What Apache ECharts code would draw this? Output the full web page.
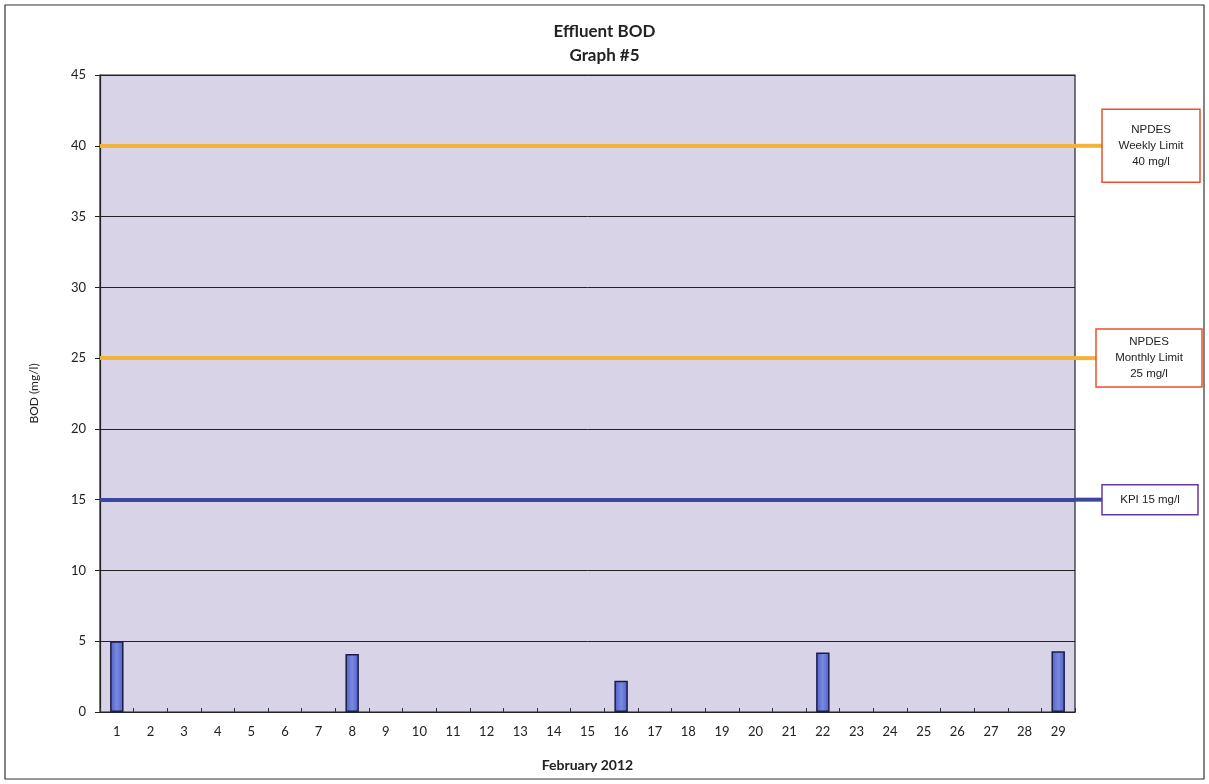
<!DOCTYPE html>
<html>
<head>
<meta charset="utf-8">
<script src="https://cdn.jsdelivr.net/npm/echarts@6/dist/echarts.min.js"></script>
<style>
  html, body { margin: 0; padding: 0; background: #fff; }
  #chart { width: 1209px; height: 784px; }
</style>
</head>
<body>
<div id="chart"></div>
<script>
// data
const days = ['1','2','3','4','5','6','7','8','9','10','11','12','13','14','15','16','17','18','19','20','21','22','23','24','25','26','27','28','29']
const bodValues = [5.0,'-','-','-','-','-','-',4.1,'-','-','-','-','-','-','-',2.2,'-','-','-','-','-',4.2,'-','-','-','-','-','-',4.3]
const yTicks = [0, 45, 5] // min, max, interval
const limits = [
  { value: 40, color: '#f3b23a', label: ['NPDES', 'Weekly Limit', '40 mg/l'], box: '#e8502a' },
  { value: 25, color: '#f3b23a', label: ['NPDES', 'Monthly Limit', '25 mg/l'], box: '#e8502a' },
  { value: 15, color: '#3c469e', label: ['KPI 15 mg/l'], box: '#6a3a9a' }
]

const chart = echarts.init(document.getElementById('chart'))
const font = 'Lato, "Open Sans", sans-serif'
const gridLeft = 100
const gridRight = 134

chart.setOption({
  animation: false,
  title: {
    text: 'Effluent BOD\nGraph #5',
    left: 'center',
    top: 15,
    textStyle: { fontFamily: font, fontSize: 17, fontWeight: 'bold', color: '#222', lineHeight: 24 }
  },
  grid: {
    left: gridLeft,
    right: gridRight,
    top: 75,
    bottom: 72,
    show: true,
    backgroundColor: '#d8d3e7',
    borderColor: '#222',
    borderWidth: 1.2
  },
  xAxis: {
    type: 'category',
    data: days,
    name: 'February 2012',
    nameLocation: 'middle',
    nameGap: 46,
    nameTextStyle: { fontFamily: font, fontSize: 14, fontWeight: 'bold', color: '#222' },
    axisLine: { lineStyle: { color: '#222', width: 1.2 } },
    axisTick: { show: true, inside: true, length: 4, lineStyle: { color: '#333' } },
    axisLabel: { fontFamily: font, fontSize: 13, color: '#222', margin: 13 }
  },
  yAxis: {
    type: 'value',
    min: yTicks[0],
    max: yTicks[1],
    interval: yTicks[2],
    name: 'BOD (mg/l)',
    nameLocation: 'middle',
    nameGap: 60,
    nameTextStyle: { fontFamily: font, fontSize: 12, color: '#222' },
    axisLine: { show: true, lineStyle: { color: '#222', width: 1.2 } },
    axisTick: { show: true, length: 5, lineStyle: { color: '#222' } },
    axisLabel: { fontFamily: font, fontSize: 13, color: '#222', margin: 14 },
    splitLine: { lineStyle: { color: '#222', width: 1 } }
  },
  series: [
    {
      type: 'bar',
      data: bodValues,
      barWidth: '40%',
      itemStyle: {
        color: new echarts.graphic.LinearGradient(0, 0, 1, 0, [
          { offset: 0, color: '#4d5fc4' },
          { offset: 0.5, color: '#7a8ae0' },
          { offset: 1, color: '#4d5fc4' }
        ]),
        borderColor: '#1c1c4c',
        borderWidth: 1.5
      },
      markLine: {
        symbol: 'none',
        silent: true,
        label: { show: false },
        data: limits.map(l => ({
          yAxis: l.value,
          lineStyle: { color: l.color, width: 4, type: 'solid' }
        }))
      }
    }
  ]
})

// extend limit lines into the right margin and draw their label boxes
const plotRight = 1209 - gridRight
const boxes = [
  { x: 1102, w: 98, h: 73 },
  { x: 1096, w: 106, h: 58 },
  { x: 1102, w: 96, h: 30 }
]
const graphics = [
  {
    type: 'rect',
    shape: { x: 5, y: 5, width: 1199, height: 774 },
    style: { fill: 'none', stroke: '#333', lineWidth: 1.2 },
    silent: true
  }
]
limits.forEach((l, i) => {
  const y = chart.convertToPixel({ yAxisIndex: 0 }, l.value)
  const b = boxes[i]
  graphics.push({
    type: 'line',
    shape: { x1: plotRight, y1: y, x2: b.x, y2: y },
    style: { stroke: l.color, lineWidth: 4 },
    silent: true
  })
  graphics.push({
    type: 'rect',
    shape: { x: b.x, y: y - b.h / 2, width: b.w, height: b.h },
    style: { fill: '#fff', stroke: l.box, lineWidth: 1.5 },
    silent: true
  })
  graphics.push({
    type: 'text',
    x: b.x + b.w / 2,
    y: y,
    style: {
      text: l.label.join('\n'),
      fontFamily: '"Liberation Sans", Arial, sans-serif',
      fontSize: 11.5,
      lineHeight: 16,
      fill: '#222',
      align: 'center',
      verticalAlign: 'middle'
    },
    silent: true
  })
})
chart.setOption({ graphic: graphics })
</script>
</body>
</html>
